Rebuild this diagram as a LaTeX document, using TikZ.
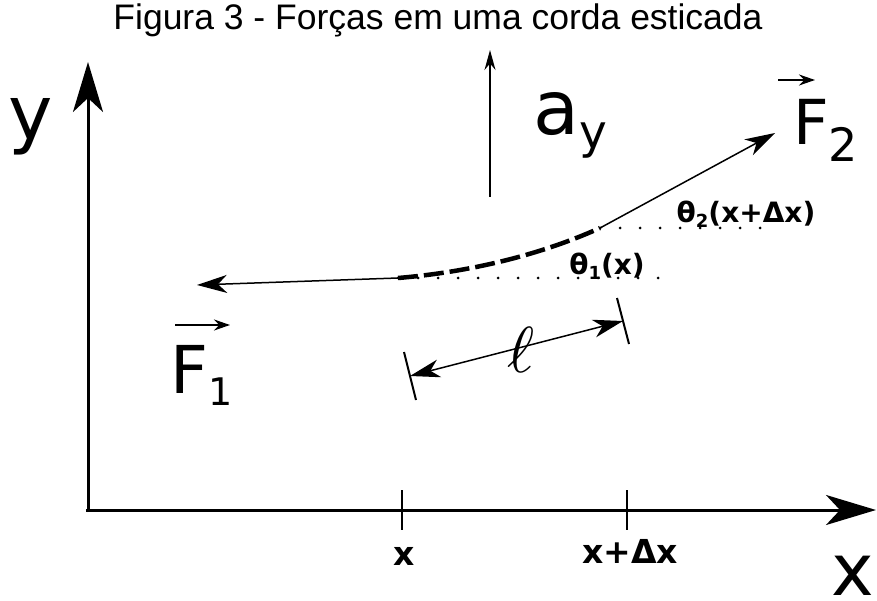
\documentclass[tikz,border=0pt]{standalone}
\usepackage{fontspec}
\setmainfont{DejaVu Sans}
\newfontfamily\titlefont{Liberation Sans}
\usetikzlibrary{arrows.meta,calc}
\tikzset{
  arr_axis/.style={-{Stealth[length=50pt,width=30pt,inset=14pt]},line width=3pt},
  arr_thin/.style={-{Stealth[length=30pt,width=18pt,inset=9pt]},line width=1.5pt},
  arr_dim/.style={{Stealth[length=30pt,width=18pt,inset=9pt]}-{Stealth[length=30pt,width=18pt,inset=9pt]},line width=1.5pt},
  arr_acc/.style={-{Stealth[length=20pt,width=11pt]},line width=1.5pt},
  arr_vec/.style={-{Stealth[length=16pt,width=11pt]},line width=2pt},
  ln_dot/.style={line width=3pt,line cap=round,dash pattern=on 0pt off 20pt},
  ln_rope/.style={line width=4.5pt,dash pattern=on 20pt off 6pt},
  ln_tick/.style={line width=2pt},
  lbl_huge/.style={font=\fontsize{75}{80}\selectfont,inner sep=0pt},
  lbl_vec/.style={font=\fontsize{66}{70}\selectfont,inner sep=0pt},
  lbl_tick/.style={font=\fontsize{33}{36}\selectfont\bfseries,inner sep=0pt},
  lbl_ang/.style={font=\fontsize{28}{30}\selectfont\bfseries,inner sep=0pt},
}
\newcommand{\subsc}[3]{\raisebox{-#1pt}{\fontsize{#2}{#2}\selectfont #3}}

\begin{document}
\begin{tikzpicture}[x=1pt,y=-1pt]
\useasboundingbox (0,0) rectangle (877,601);
\node[font=\titlefont\fontsize{35.5}{40}\selectfont,anchor=base,inner sep=0pt] (title) at (438,30) {Figura 3 - Forças em uma corda esticada};
% axes
\coordinate (O) at (88,512);
\coordinate (Yt) at (88,62);
\coordinate (Xs) at (86,510);
\coordinate (Xt) at (876,510);
\draw[arr_axis] (O) -- (Yt);
\draw[arr_axis] (Xs) -- (Xt);
\node[lbl_huge,anchor=base west] (ylbl) at (8,140) {y};
\node[lbl_huge,font=\fontsize{72}{76}\selectfont,anchor=base west] (xlbl) at (831,595) {x};
% ticks on x axis
\coordinate (t1a) at (402,490); \coordinate (t1b) at (402,530);
\coordinate (t2a) at (627,490); \coordinate (t2b) at (627,530);
\draw[ln_tick] (t1a) -- (t1b);
\draw[ln_tick] (t2a) -- (t2b);
\node[lbl_tick,anchor=base] (xa) at (404,565) {x};
\node[lbl_tick,anchor=base] (xb) at (630,563) {x+Δx};
% rope
\coordinate (P1) at (398,278);
\coordinate (P2) at (600,228);
\coordinate (E1) at (197,285);
\coordinate (E2) at (775,133);
\coordinate (D1) at (672,278);
\coordinate (D2) at (762,228);
\draw[ln_dot] (P1) -- (D1);
\draw[ln_dot] (P2) -- (D2);
\draw[ln_rope] (P1) .. controls (470,272) and (540,255) .. (P2);
\draw[arr_thin] (P1) -- (E1);
\draw[arr_thin] (P2) -- (E2);
\node[lbl_ang] (th1) at (607,266) {θ\subsc{5}{18}{1}(x)};
\node[lbl_ang] (th2) at (746,214) {θ\subsc{5}{18}{2}(x+Δx)};
% forces
\node[lbl_vec,anchor=base west] (F1) at (170,393) {F\subsc{12}{38}{1}};
\node[lbl_vec,font=\fontsize{62}{66}\selectfont,anchor=base west] (F2) at (793,145) {F\subsc{17}{46}{2}};
\draw[arr_vec] ($(F1.base west)+(5,-68)$) -- ++(55,0);
\draw[arr_vec] ($(F2.base west)+(-15,-65)$) -- ++(37,0);
% acceleration
\coordinate (A0) at (490,197);
\coordinate (A1) at (490,50);
\draw[arr_acc] (A0) -- (A1);
\node[lbl_huge,anchor=base west] (ay) at (533,135) {a\subsc{14}{47}{y}};
% length of element
\coordinate (L1) at (410,376);
\coordinate (L2) at (623,321);
\draw[ln_tick] ($(L1)+(-6,-24)$) -- ($(L1)+(6,24)$);
\draw[ln_tick] ($(L2)+(-6,-23)$) -- ($(L2)+(6,23)$);
\draw[arr_dim] (L1) -- (L2);
\node[inner sep=0pt] (ell) at (521,350) {\scalebox{6.5}{$\ell$}};
\end{tikzpicture}
\end{document}
